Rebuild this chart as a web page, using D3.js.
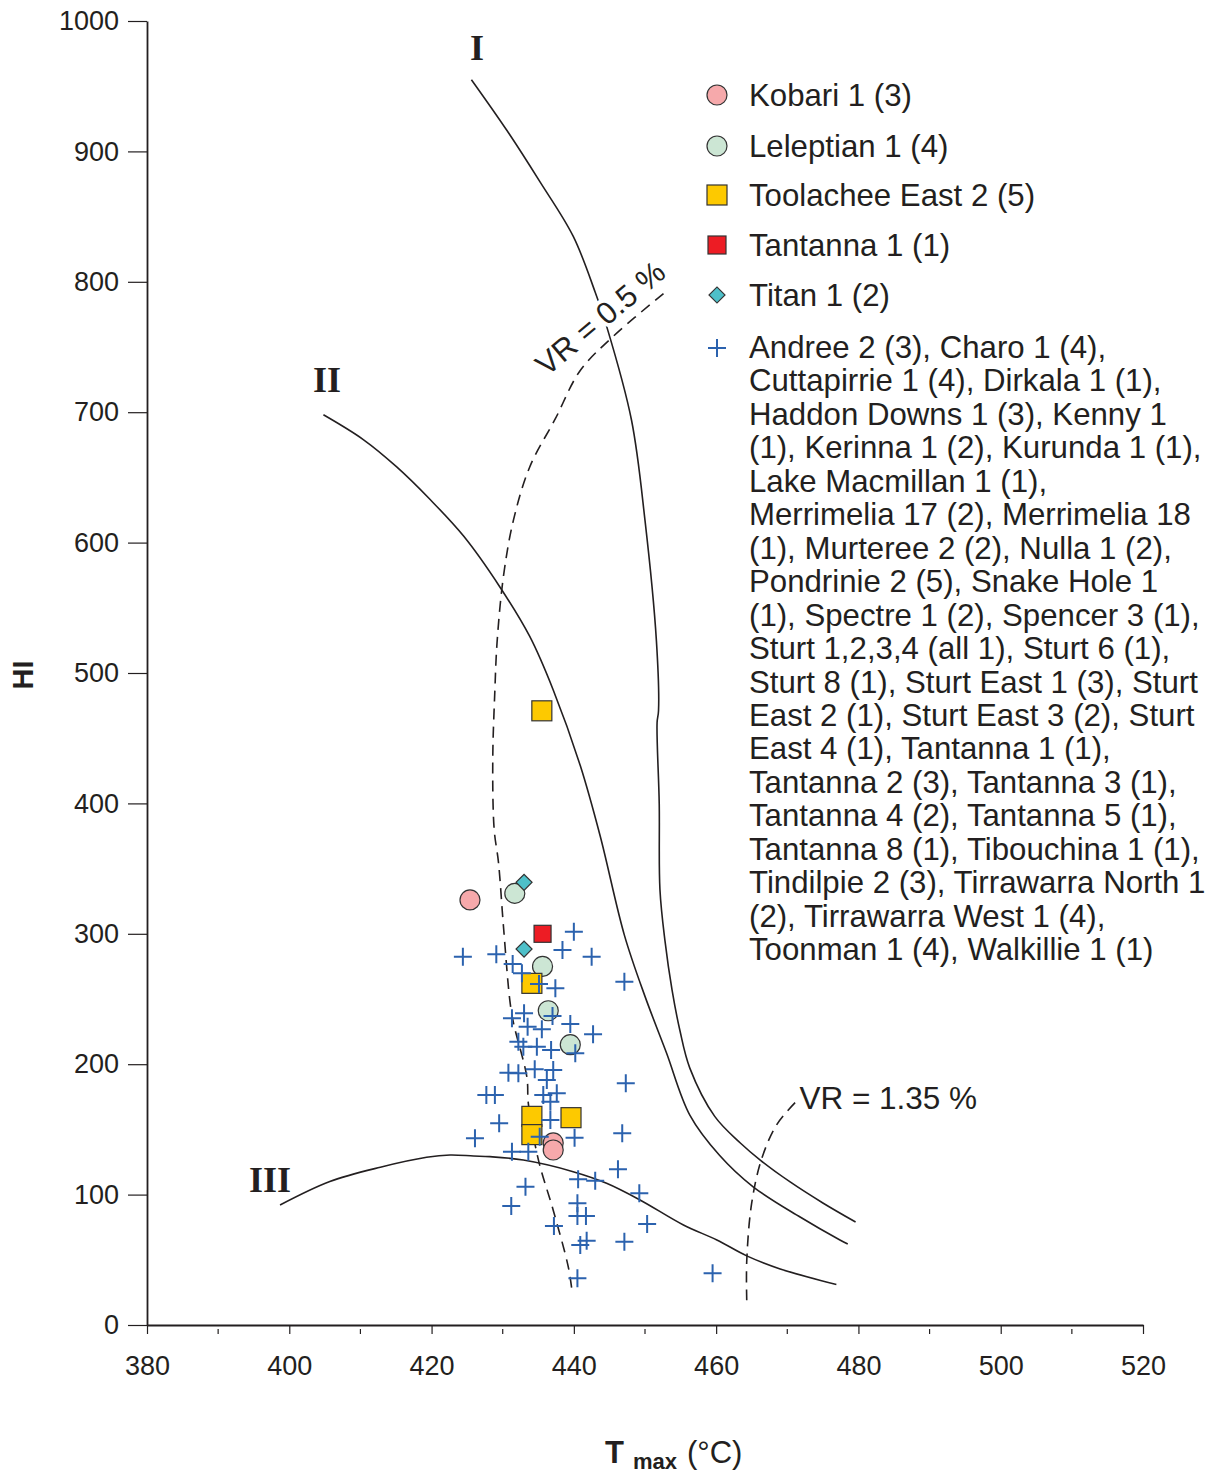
<!DOCTYPE html>
<html>
<head>
<meta charset="utf-8">
<script src="https://cdn.jsdelivr.net/npm/d3@7"></script>
<style>
  body { margin: 0; background: #fff; }
  svg { font-family: "Liberation Sans", Arial, sans-serif; }
</style>
</head>
<body>
<svg id="chart" width="1214" height="1480"></svg>
<script>
// ticks
var xTicks = [380, 400, 420, 440, 460, 480, 500, 520];
var xMinor = [390, 410, 430, 450, 470, 490, 510];
var yTicks = [0, 100, 200, 300, 400, 500, 600, 700, 800, 900, 1000];

// kerogen type curves [Tmax, HI]
var curveI = [[425.6, 955], [430.6, 916], [435.2, 877], [439.9, 835], [443.0, 792], [444.6, 766],
  [448.1, 694], [450.0, 617], [451.6, 525], [451.9, 471], [451.7, 462], [452.0, 400],
  [452.1, 334], [452.8, 295], [453.8, 257], [454.9, 226], [456.3, 197], [459.8, 160],
  [463.4, 139.6], [466.2, 126.5], [470.4, 109.7], [475.0, 93.6], [479.6, 79]];
var curveII = [[404.8, 698], [410.4, 679], [415.1, 658], [419.8, 633], [424.5, 605], [429.6, 566],
  [433.8, 528], [437.1, 487], [440.9, 429], [443.7, 375], [447.1, 299], [450.0, 252],
  [453.0, 209], [456.3, 161], [460.5, 130], [465.2, 106], [471.8, 82.8], [477.4, 65.2], [478.5, 62.1]];
var curveIII = [[398.7, 92], [405.7, 110], [412.8, 121], [419.3, 128.6], [422.6, 130.4], [425.9, 129.6],
  [428.2, 129.1], [432.9, 126.5], [439.9, 117.6], [444.6, 108.7], [449.3, 95.9], [455.4, 76.7],
  [460.1, 65.2], [464.3, 53], [469.0, 43], [476.9, 31]];
var vr05 = [[452.6, 791], [445.5, 758], [440.9, 732], [437.4, 695], [433.8, 658], [431.5, 617],
  [430.1, 574], [429.2, 523], [428.9, 487], [428.6, 433], [428.8, 380], [429.4, 355],
  [430.1, 306], [431.0, 249], [431.5, 232], [433.4, 190], [433.6, 170], [435.0, 127],
  [437.1, 88], [439.2, 45], [439.7, 28]];
var vr135 = [[471.1, 170.5], [468.5, 153.5], [466.4, 127.5], [465.0, 93.6], [464.3, 49], [464.3, 19]];

// samples [Tmax, HI]
var kobari = [[425.4, 326], [437.1, 139.6], [437.1, 134.2]];
var leleptian = [[431.7, 331], [435.6, 275], [436.4, 241], [439.5, 215]];
var toolachee = [[435.5, 471], [434.1, 262], [434.1, 160], [434.1, 146], [439.6, 159]];
var tantanna = [[435.6, 300]];
var titan = [[433.0, 339.5], [433.0, 288.3]];
var others = [[424.4, 282.4], [429.1, 284.3], [431.4, 276.8], [432.7, 269.7], [435.1, 261.5],
  [437.4, 258.2], [438.4, 287.6], [440.0, 301.6], [442.5, 282.4], [447.1, 263.3],
  [431.3, 235.2], [433.0, 239.0], [433.5, 228.8], [435.5, 226.8], [437.0, 237.0],
  [439.5, 230.8], [442.7, 222.9], [432.2, 217.3], [432.9, 213.4], [434.8, 213.4],
  [436.8, 210.9], [440.2, 208.4], [430.8, 193.5], [432.2, 193.0], [434.5, 196.1],
  [437.1, 195.6], [436.2, 187.9], [447.3, 185.4], [427.7, 176.4], [428.9, 176.4],
  [435.7, 176.4], [437.6, 177.7], [436.7, 171.2], [436.7, 157.2], [429.5, 154.7],
  [426.1, 143.2], [435.2, 144.4], [440.1, 143.6], [446.8, 147.0], [431.3, 132.9],
  [433.6, 132.9], [440.6, 111.7], [443.0, 110.7], [446.2, 119.4], [449.2, 101.0],
  [433.2, 106.1], [431.2, 91.3], [440.5, 93.3], [440.5, 83.6], [441.7, 83.6],
  [450.3, 77.5], [437.2, 75.9], [440.9, 61.3], [441.8, 64.6], [447.1, 63.9],
  [440.5, 35.8], [459.5, 39.6]];

var legendNames = ['Kobari 1 (3)', 'Leleptian 1 (4)', 'Toolachee East 2 (5)', 'Tantanna 1 (1)', 'Titan 1 (2)'];
var otherLines = ['Andree 2 (3), Charo 1 (4),', 'Cuttapirrie 1 (4), Dirkala 1 (1),',
  'Haddon Downs 1 (3), Kenny 1', '(1), Kerinna 1 (2), Kurunda 1 (1),', 'Lake Macmillan 1 (1),',
  'Merrimelia 17 (2), Merrimelia 18', '(1), Murteree 2 (2), Nulla 1 (2),',
  'Pondrinie 2 (5), Snake Hole 1', '(1), Spectre 1 (2), Spencer 3 (1),',
  'Sturt 1,2,3,4 (all 1), Sturt 6 (1),', 'Sturt 8 (1), Sturt East 1 (3), Sturt',
  'East 2 (1), Sturt East 3 (2), Sturt', 'East 4 (1), Tantanna 1 (1),',
  'Tantanna 2 (3), Tantanna 3 (1),', 'Tantanna 4 (2), Tantanna 5 (1),',
  'Tantanna 8 (1), Tibouchina 1 (1),', 'Tindilpie 2 (3), Tirrawarra North 1',
  '(2), Tirrawarra West 1 (4),', 'Toonman 1 (4), Walkillie 1 (1)'];

var ink = '#231f20';
var pink = '#f6a9ab', green = '#cce6d4', yellow = '#fdc900', red = '#ed1c24', cyan = '#4ec0c9', blue = '#2b62ae';

var svg = d3.select('#chart');
var x = d3.scaleLinear().domain([380, 520]).range([147, 1143]);
var y = d3.scaleLinear().domain([0, 1000]).range([1325, 21]);

// axes
var yAxis = svg.append('g')
  .attr('transform', 'translate(147,0)')
  .call(d3.axisLeft(y).tickValues(yTicks).tickFormat(d3.format('d'))
    .tickSize(19).tickSizeOuter(0).tickPadding(9));
var xAxis = svg.append('g')
  .attr('transform', 'translate(0,1325)')
  .call(d3.axisBottom(x).tickValues(xTicks).tickFormat(d3.format('d'))
    .tickSize(9).tickSizeOuter(0).tickPadding(22));
[xAxis, yAxis].forEach(function (g) {
  g.select('.domain').attr('stroke', ink).attr('stroke-width', 1.8);
  g.selectAll('.tick line').attr('stroke', ink).attr('stroke-width', 1.2);
  g.selectAll('.tick text').attr('fill', ink).style('font-size', '27px')
    .style('font-family', '"Liberation Sans", Arial, sans-serif');
});
svg.append('g').selectAll('line').data(xMinor).enter().append('line')
  .attr('x1', function (d) { return x(d); }).attr('x2', function (d) { return x(d); })
  .attr('y1', 1329).attr('y2', 1334)
  .attr('stroke', ink).attr('stroke-width', 1.2);

// axis titles
svg.append('text')
  .attr('transform', 'translate(33,675) rotate(-90)')
  .attr('text-anchor', 'middle')
  .style('font-size', '29px').style('font-weight', 'bold')
  .attr('fill', ink).text('HI');
var xt = svg.append('text').attr('x', 605).attr('y', 1463).attr('fill', ink);
xt.append('tspan').style('font-size', '31px').style('font-weight', 'bold').text('T');
xt.append('tspan').attr('dx', 9).attr('dy', 6).style('font-size', '22px').style('font-weight', 'bold').text('max');
xt.append('tspan').attr('dx', 10).attr('dy', -6).style('font-size', '31px').text('(°C)');

// curves
var line = d3.line()
  .x(function (d) { return x(d[0]); })
  .y(function (d) { return y(d[1]); })
  .curve(d3.curveCatmullRom.alpha(0.5));

[curveI, curveII, curveIII].forEach(function (c) {
  svg.append('path').attr('d', line(c))
    .attr('fill', 'none').attr('stroke', ink).attr('stroke-width', 1.6);
});
[vr05, vr135].forEach(function (c) {
  svg.append('path').attr('d', line(c))
    .attr('fill', 'none').attr('stroke', ink).attr('stroke-width', 1.6)
    .attr('stroke-dasharray', '11,7');
});

// curve labels
var serif = '"Liberation Serif", "Times New Roman", serif';
[['I', 477, 60], ['II', 327, 392], ['III', 270, 1192]].forEach(function (l) {
  svg.append('text').attr('x', l[1]).attr('y', l[2])
    .attr('text-anchor', 'middle')
    .style('font-family', serif).style('font-size', '36px').style('font-weight', 'bold')
    .attr('fill', ink).text(l[0]);
});
svg.append('text')
  .attr('transform', 'translate(' + x(436.2) + ',' + y(727) + ') rotate(-40)')
  .style('font-size', '31px').attr('fill', ink)
  .attr('stroke', '#fff').attr('stroke-width', 8).attr('paint-order', 'stroke')
  .text('VR = 0.5 %');
svg.append('text')
  .attr('x', x(471.7)).attr('y', y(166))
  .style('font-size', '31.5px').attr('fill', ink)
  .text('VR = 1.35 %');

// symbols
function circles(data, fill) {
  svg.append('g').selectAll('circle').data(data).enter().append('circle')
    .attr('cx', function (d) { return x(d[0]); })
    .attr('cy', function (d) { return y(d[1]); })
    .attr('r', 10).attr('fill', fill).attr('stroke', '#333').attr('stroke-width', 1.2);
}
function squares(data, fill, s) {
  svg.append('g').selectAll('rect').data(data).enter().append('rect')
    .attr('x', function (d) { return x(d[0]) - s / 2; })
    .attr('y', function (d) { return y(d[1]) - s / 2; })
    .attr('width', s).attr('height', s)
    .attr('fill', fill).attr('stroke', '#333').attr('stroke-width', 1.2);
}
var diamond = d3.symbol().type(d3.symbolSquare).size(128);
var plus = 'M-9,0H9M0,-9V9';

circles(kobari, pink);
circles(leleptian, green);
squares(toolachee, yellow, 20);
squares(tantanna, red, 17);
svg.append('g').selectAll('path').data(titan).enter().append('path')
  .attr('d', diamond)
  .attr('transform', function (d) { return 'translate(' + x(d[0]) + ',' + y(d[1]) + ') rotate(45)'; })
  .attr('fill', cyan).attr('stroke', '#333').attr('stroke-width', 1.2);
svg.append('g').selectAll('path').data(others).enter().append('path')
  .attr('d', plus)
  .attr('transform', function (d) { return 'translate(' + x(d[0]) + ',' + y(d[1]) + ')'; })
  .attr('stroke', blue).attr('stroke-width', 2).attr('fill', 'none');

// legend
var lg = svg.append('g').attr('transform', 'translate(717,0)');
var rowY = [95, 146, 195, 245, 295];
lg.append('circle').attr('cy', rowY[0]).attr('r', 10).attr('fill', pink).attr('stroke', '#333').attr('stroke-width', 1.2);
lg.append('circle').attr('cy', rowY[1]).attr('r', 10).attr('fill', green).attr('stroke', '#333').attr('stroke-width', 1.2);
lg.append('rect').attr('x', -10).attr('y', rowY[2] - 10).attr('width', 20).attr('height', 20)
  .attr('fill', yellow).attr('stroke', '#333').attr('stroke-width', 1.2);
lg.append('rect').attr('x', -9).attr('y', rowY[3] - 9).attr('width', 18).attr('height', 18)
  .attr('fill', red).attr('stroke', '#333').attr('stroke-width', 1.2);
lg.append('path').attr('d', diamond).attr('transform', 'translate(0,' + rowY[4] + ') rotate(45)')
  .attr('fill', cyan).attr('stroke', '#333').attr('stroke-width', 1.2);
lg.append('path').attr('d', plus).attr('transform', 'translate(0,348)')
  .attr('stroke', blue).attr('stroke-width', 2).attr('fill', 'none');

lg.selectAll('text.name').data(legendNames).enter().append('text')
  .attr('class', 'name')
  .attr('x', 32).attr('y', function (d, i) { return rowY[i] + 11; })
  .style('font-size', '31.2px').attr('fill', ink)
  .text(function (d) { return d; });
lg.selectAll('text.other').data(otherLines).enter().append('text')
  .attr('class', 'other')
  .attr('x', 32).attr('y', function (d, i) { return 358 + i * 33.45; })
  .style('font-size', '31.2px').attr('fill', ink)
  .text(function (d) { return d; });
</script>
</body>
</html>
